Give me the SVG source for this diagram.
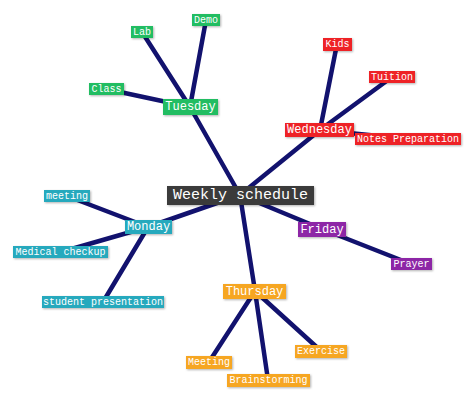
<svg xmlns="http://www.w3.org/2000/svg" width="474" height="400" viewBox="0 0 474 400">
<defs>
<filter id="sh" x="-20%" y="-30%" width="140%" height="160%">
<feDropShadow dx="1" dy="1" stdDeviation="0.8" flood-color="#000" flood-opacity="0.3"/>
</filter>
</defs>
<style>
.ln{stroke:#12126e;stroke-width:4.5;fill:none;stroke-linecap:round}
.bx{filter:url(#sh)}
text{font-family:"Liberation Mono","Courier New",monospace;fill:#fff;text-anchor:middle;dominant-baseline:central}
.s{font-size:10px}
.m{font-size:12px}
.l{font-size:15px}
.green{fill:#22bd62}
.red{fill:#ee2128}
.teal{fill:#25a9bd}
.orange{fill:#f6a623}
.purple{fill:#8d28a6}
.dark{fill:#3a3a3a}
</style>
<rect width="474" height="400" fill="#fff"/>
<g id="connectors">
<line class="ln" x1="240" y1="195" x2="190" y2="107"/>
<line class="ln" x1="240" y1="195" x2="320" y2="130"/>
<line class="ln" x1="240" y1="195" x2="148" y2="227"/>
<line class="ln" x1="240" y1="195" x2="255" y2="291"/>
<line class="ln" x1="240" y1="195" x2="322" y2="229"/>
<line class="ln" x1="190" y1="107" x2="142" y2="32"/>
<line class="ln" x1="190" y1="107" x2="206" y2="20"/>
<line class="ln" x1="190" y1="107" x2="106" y2="89"/>
<line class="ln" x1="320" y1="130" x2="337" y2="44"/>
<line class="ln" x1="320" y1="130" x2="392" y2="77"/>
<line class="ln" x1="320" y1="130" x2="408" y2="139"/>
<line class="ln" x1="148" y1="227" x2="67" y2="196"/>
<line class="ln" x1="148" y1="227" x2="61" y2="252"/>
<line class="ln" x1="148" y1="227" x2="103" y2="302"/>
<line class="ln" x1="255" y1="291" x2="209" y2="362"/>
<line class="ln" x1="255" y1="291" x2="268" y2="380"/>
<line class="ln" x1="255" y1="291" x2="321" y2="351"/>
<line class="ln" x1="322" y1="229" x2="411" y2="264"/>
</g>
<g id="weekly"><rect class="bx dark" x="167" y="186" width="147" height="19"/><text class="l" x="240.5" y="195.5">Weekly schedule</text></g>
<g id="tuesday"><rect class="bx green" x="163" y="99" width="55" height="16"/><text class="m" x="190.5" y="107">Tuesday</text></g>
<g id="lab"><rect class="bx green" x="131" y="26" width="22" height="12"/><text class="s" x="142" y="32">Lab</text></g>
<g id="demo"><rect class="bx green" x="192" y="14" width="28" height="12"/><text class="s" x="206" y="20">Demo</text></g>
<g id="class"><rect class="bx green" x="89" y="83" width="35" height="12"/><text class="s" x="106.5" y="89">Class</text></g>
<g id="wednesday"><rect class="bx red" x="285" y="123" width="69" height="14"/><text class="m" x="319.5" y="130">Wednesday</text></g>
<g id="kids"><rect class="bx red" x="323" y="38" width="29" height="13"/><text class="s" x="337.5" y="44.5">Kids</text></g>
<g id="tuition"><rect class="bx red" x="369" y="71" width="46" height="12"/><text class="s" x="392" y="77">Tuition</text></g>
<g id="notes"><rect class="bx red" x="355" y="133" width="106" height="12"/><text class="s" x="408" y="139">Notes Preparation</text></g>
<g id="monday"><rect class="bx teal" x="125" y="220" width="47" height="14"/><text class="m" x="148.5" y="227">Monday</text></g>
<g id="meeting"><rect class="bx teal" x="44" y="190" width="46" height="12"/><text class="s" x="67" y="196">meeting</text></g>
<g id="medical"><rect class="bx teal" x="13" y="246" width="95" height="12"/><text class="s" x="60.5" y="252">Medical checkup</text></g>
<g id="student"><rect class="bx teal" x="42" y="296" width="122" height="12"/><text class="s" x="103" y="302">student presentation</text></g>
<g id="thursday"><rect class="bx orange" x="223" y="284" width="63" height="15"/><text class="m" x="254.5" y="291.5">Thursday</text></g>
<g id="meeting2"><rect class="bx orange" x="186" y="356" width="46" height="13"/><text class="s" x="209" y="362.5">Meeting</text></g>
<g id="brainstorming"><rect class="bx orange" x="227" y="374" width="83" height="13"/><text class="s" x="268.5" y="380.5">Brainstorming</text></g>
<g id="exercise"><rect class="bx orange" x="295" y="345" width="52" height="13"/><text class="s" x="321" y="351.5">Exercise</text></g>
<g id="friday"><rect class="bx purple" x="298" y="222" width="48" height="15"/><text class="m" x="322" y="229.5">Friday</text></g>
<g id="prayer"><rect class="bx purple" x="391" y="258" width="41" height="12"/><text class="s" x="411.5" y="264">Prayer</text></g>
</svg>
